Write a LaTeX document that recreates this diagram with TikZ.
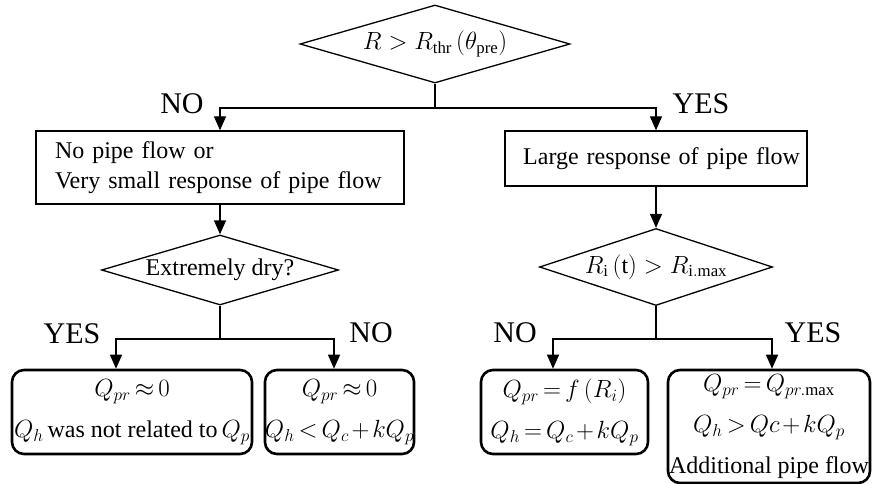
\documentclass[tikz,border=0pt]{standalone}
\usepackage{amsmath}
\usepackage{fontspec}
\setmainfont{Liberation Serif}
\usepackage{tikz}
\usetikzlibrary{arrows.meta}
\usetikzlibrary{shapes.geometric}
\newcommand{\blockfont}{\fontsize{24}{30}\selectfont}
\newcommand{\resultfont}{\fontsize{24}{41}\selectfont\medmuskip=2mu\thickmuskip=3mu}
\newcommand{\answerfont}{\fontsize{30}{36}\selectfont}
\tikzstyle{decision} = [diamond, draw, inner sep=0pt, line width=1.3pt, font=\blockfont]
\tikzstyle{block} = [rectangle, draw, inner ysep=0pt, line width=1.3pt, font=\blockfont]
\tikzstyle{result} = [rectangle, draw, rounded corners=12pt, inner sep=0pt,
align=center, line width=2.6pt, font=\resultfont]
\tikzstyle{answer} = [inner sep=0pt, font=\answerfont]
\tikzstyle{line} = [draw, -{Triangle[length=14pt,width=12pt]}, line width=1.3pt]

\begin{document}
\begin{tikzpicture}[x=1pt,y=-1pt]
\useasboundingbox (0,0) rectangle (872,484);
% Place nodes
	\node [decision, aspect=3.46, minimum width=270pt, minimum height=78pt] (rain) at (435,44) {$R > R_{\mathrm{thr}}\,(\theta_{\mathrm{pre}})$};
	\node [block, minimum width=368pt, minimum height=73pt, text width=330pt, inner xsep=19pt, align=left] (nopipe) at (220,167.5) {No pipe flow or\\Very small response of pipe flow};
	\node [block, minimum width=302pt, minimum height=55pt, text width=288pt, inner xsep=7pt, align=right] (bigpipe) at (656,158.5) {Large response of pipe flow};
	\node [decision, aspect=3.39, minimum width=237pt, minimum height=70pt] (dry) at (220,270) {Extremely dry?};
	\node [decision, aspect=3.03, minimum width=233pt, minimum height=77pt] (imax) at (656,267) {$R_{\mathrm{i}}\,(\mathrm{t}) > R_{\mathrm{i.max}}$};
	\node [result, minimum width=240pt, minimum height=84pt] (drydry) at (132,412) {$Q_{pr} \approx 0$\\$Q_h$\,was not related to\,$Q_p$};
	\node [result, minimum width=135pt, minimum height=84pt] (drywet) at (339.5,412) {$Q_{pr} \approx 0$\\$Q_h < Q_c + kQ_p$};
	\node [result, minimum width=167pt, minimum height=84pt] (flowfi) at (564.5,412) {$Q_{pr} = f\,(R_i)$\\$Q_h = Q_c + kQ_p$};
	\node [result, minimum width=202pt, minimum height=113pt] (flowmax) at (769,426.5) {$Q_{pr} = Q_{pr.\mathrm{max}}$\\$Q_h > Qc + kQ_p$\\Additional pipe flow};

% Branch points
	\coordinate (split) at (435,108);
	\coordinate (drysplit) at (220,339);
	\coordinate (imaxsplit) at (656,339);

% Answers
	\node [answer] (rainno) at (182,104) {NO};
	\node [answer] (rainyes) at (701,104) {YES};
	\node [answer] (dryyes) at (72,334) {YES};
	\node [answer] (dryno) at (371,333) {NO};
	\node [answer] (imaxno) at (515,333) {NO};
	\node [answer] (imaxyes) at (813,333) {YES};

% Draw edges
	\path [line] (rain.south) -- (split) -| (nopipe.north);
	\path [line] (split) -| (bigpipe.north);
	\path [line] (nopipe) -- (dry);
	\path [line] (bigpipe) -- (imax);
	\path [line] (dry.south) -- (drysplit) -| ([xshift=-16pt]drydry.north);
	\path [line] (drysplit) -| ([xshift=-5.5pt]drywet.north);
	\path [line] (imax.south) -- (imaxsplit) -| ([xshift=-11.5pt]flowfi.north);
	\path [line] (imaxsplit) -| ([xshift=3pt]flowmax.north);

\end{tikzpicture}
\end{document}
